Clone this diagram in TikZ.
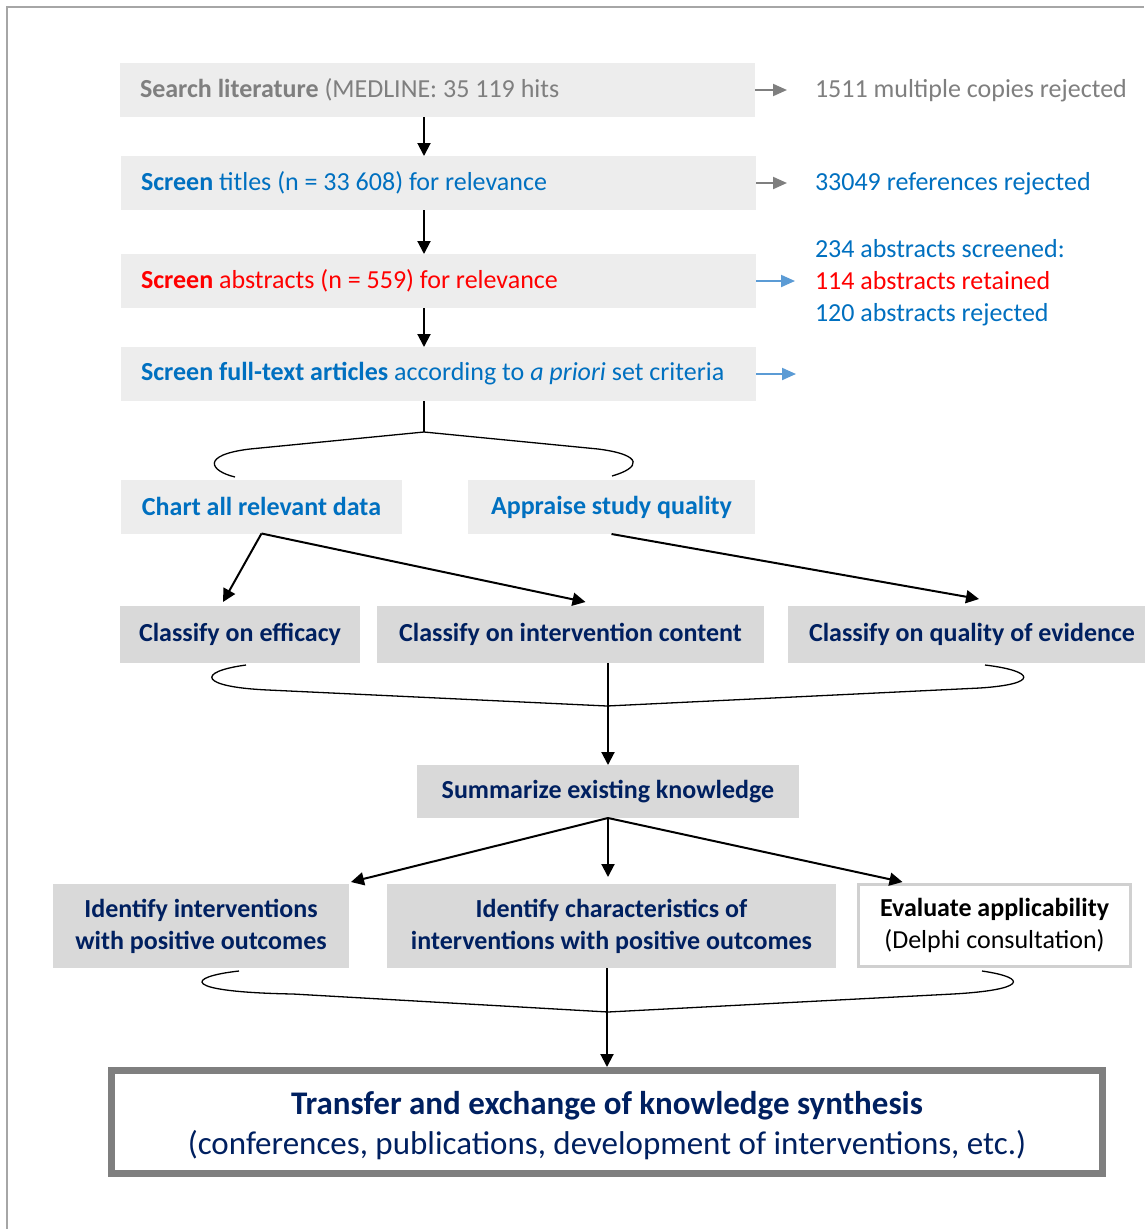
\documentclass[tikz,border=0pt]{standalone}
\usepackage{fontspec}
\setmainfont{Carlito}
\usetikzlibrary{arrows.meta}
\definecolor{lbox}{HTML}{EDEDED}
\definecolor{dbox}{HTML}{D9D9D9}
\definecolor{tgray}{HTML}{7F7F7F}
\definecolor{tblue}{HTML}{0070C0}
\definecolor{tred}{HTML}{FF0000}
\definecolor{navy}{HTML}{002060}
\definecolor{abl}{HTML}{5B9BD5}
\definecolor{framec}{HTML}{A6A6A6}
\definecolor{evb}{HTML}{D0D0D0}
\begin{document}
\begin{tikzpicture}[x=1pt,y=-1pt,
  every node/.style={inner sep=0pt, outer sep=0pt},
  txt/.style={font=\fontsize{26}{32}\selectfont},
  btxt/.style={font=\fontsize{26}{32}\selectfont\bfseries},
  wide/.style={txt, fill=lbox, anchor=west, minimum height=54pt, text width=595pt, inner xsep=20pt, align=flush left},
  lightbox/.style={btxt, fill=lbox, minimum height=54pt, text=tblue},
  darkbox/.style={btxt, fill=dbox, text=navy, align=center},
  arr/.style={line width=2pt, -{Triangle[length=13pt,width=13pt]}},
  sarr/.style={line width=2pt, -{Triangle[length=14pt,width=12pt]}},
  brace/.style={line width=1.3pt}
]
\useasboundingbox (0,0) rectangle (1144,1229);
\fill[white] (0,0) rectangle (1144,1229);
\draw[framec, line width=1.5pt] (7,1229) -- (7,7) -- (1144,7);

\coordinate (ax) at (424,0);

% main column
\node[wide, text=tgray] (s1) at (120,90) {\textbf{Search literature} (MEDLINE: 35 119 hits};
\node[wide, text=tblue] (s2) at (121,183) {\textbf{Screen} titles (n = 33 608) for relevance};
\node[wide, text=tred] (s3) at (121,281) {\textbf{Screen} abstracts (n = 559) for relevance};
\node[wide, text=tblue] (s4) at (121,374) {\textbf{Screen full-text articles} according to \textit{a priori} set criteria};

\draw[arr] (s1.south -| ax) -- (s2.north -| ax);
\draw[arr] (s2.south -| ax) -- (s3.north -| ax);
\draw[arr] (s3.south -| ax) -- (s4.north -| ax);

% right texts
\node[txt, text=tgray, anchor=west] (r1) at (815,91) {1511 multiple copies rejected};
\node[txt, text=tblue, anchor=west] (r2) at (815,184) {33049 references rejected};
\node[txt, anchor=west, align=left] (r3) at (815,282.5) {\textcolor{tblue}{234 abstracts screened:}\\\textcolor{tred}{114 abstracts retained}\\\textcolor{tblue}{120 abstracts rejected}};
\coordinate (e4) at (796,374);

\draw[sarr, tgray, shorten >=28pt] (s1.east) -- (s1.east -| r1.west);
\draw[sarr, tgray, shorten >=28pt] (s2.east) -- (s2.east -| r2.west);
\draw[sarr, abl, shorten >=20pt] (s3.east) -- (s3.east -| r3.west);
\draw[sarr, abl] (s4.east) -- (e4);

% first split
\coordinate (b1) at (424,432);
\draw[brace] (s4.south -| ax) -- (b1);
\draw[brace] (b1) -- (250,449) .. controls (200,455) and (210,471) .. (235,477);
\draw[brace] (b1) -- (598,449) .. controls (645,455) and (640,468) .. (612,476);

\node[lightbox, minimum width=281pt] (chart) at (261.5,506.5) {Chart all relevant data};
\node[lightbox, minimum width=287pt] (appr) at (611.5,507) {Appraise study quality};

% classify row
\node[darkbox, minimum width=240pt, minimum height=57pt] (eff) at (240,634.5) {Classify on efficacy};
\node[darkbox, minimum width=387pt, minimum height=57pt] (cont) at (570.5,634.5) {Classify on intervention content};
\node[darkbox, minimum width=368pt, minimum height=57pt] (qual) at (972,634.5) {Classify on quality of evidence};

\draw[arr] (chart.south) -- ([xshift=-17pt,yshift=4pt]eff.north);
\draw[arr] (chart.south) -- ([xshift=15pt,yshift=4pt]cont.north);
\draw[arr] (appr.south) -- ([xshift=7pt,yshift=7pt]qual.north);

% merge 1
\node[darkbox, minimum width=382pt, minimum height=53pt] (summ) at (608,791.5) {Summarize existing knowledge};
\coordinate (b2) at (607,706);
\draw[brace] (246,665) .. controls (195,672) and (200,687) .. (268,690) -- (b2) -- (980,688) .. controls (1040,684) and (1035,671) .. (985,665);
\draw[arr] (cont.south -| summ.north) -- (summ.north);

% identify row
\node[darkbox, minimum width=296pt, minimum height=84pt] (ii) at (201,926) {Identify interventions\\with positive outcomes};
\node[darkbox, minimum width=449pt, minimum height=84pt] (ic) at (611.5,926) {Identify characteristics of\\interventions with positive outcomes};
\node[txt, align=center, fill=white, draw=evb, line width=3pt, outer sep=1.5pt, minimum width=272pt, minimum height=82pt] (ev) at (994.5,925.5) {\textbf{Evaluate applicability}\\(Delphi consultation)};

\draw[arr] (summ.south) -- ([xshift=2pt,yshift=2pt]ii.north east);
\draw[arr] (summ.south) -- ([yshift=7pt]summ.south |- ic.north);
\draw[arr] (summ.south) -- ([xshift=-92pt,yshift=1pt]ev.north);

% merge 2
\node[font=\fontsize{33}{40}\selectfont, text=navy, draw=tgray, line width=7pt, outer sep=3.5pt, minimum width=991pt, minimum height=103pt] (fin) at (607,1122) {\raisebox{-4pt}[\height][\depth]{\begin{tabular}{@{}c@{}}\textbf{Transfer and exchange of knowledge synthesis}\\(conferences, publications, development of interventions, etc.)\end{tabular}}};
\coordinate (b3) at (608,1012);
\draw[brace] (239,971) .. controls (185,977) and (180,992) .. (293,994) -- (b3) -- (953,994) .. controls (1025,990) and (1030,978) .. (982,971);
\draw[arr] (ic.south -| fin.north) -- (fin.north);
\end{tikzpicture}
\end{document}
